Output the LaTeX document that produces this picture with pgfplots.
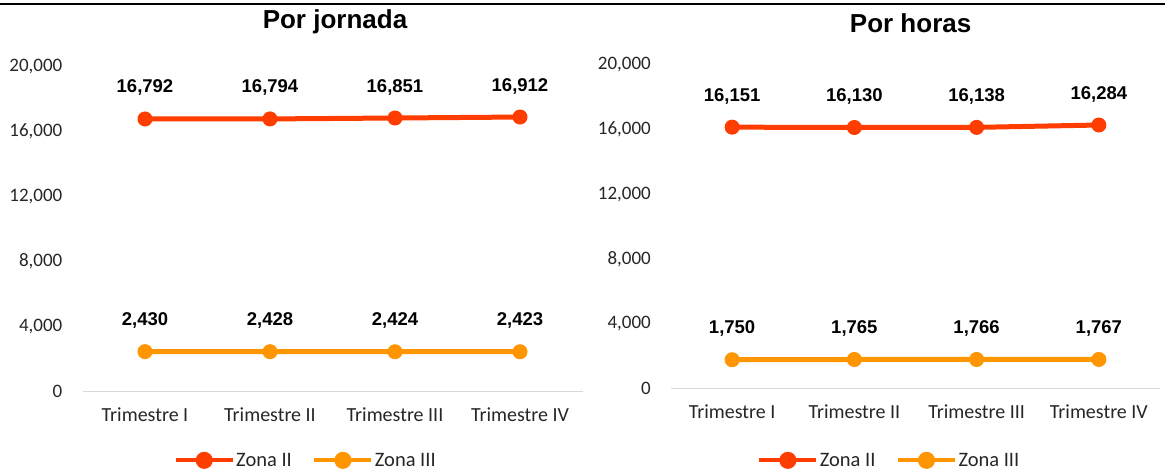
\documentclass[border=0pt]{standalone}
\usepackage{pgfplots}
\pgfplotsset{compat=1.18}
\usepackage{fontspec}
\setmainfont{Carlito}
\newfontfamily\boldsans{Liberation Sans}
\definecolor{zonaii}{HTML}{FF3D00}
\definecolor{zonaiii}{HTML}{FF9500}
\pgfplotsset{
  chartstyle/.style={
    scale only axis,
    axis x line=bottom, axis y line=left,
    axis line style={draw=none},
    separate axis lines,
    ymin=0, ymax=20000,
    ytick={0,4000,8000,12000,16000,20000},
    xtick={0,1,2,3},
    xticklabels={Trimestre I,Trimestre II,Trimestre III,Trimestre IV},
    xmin=-0.5, xmax=3.5,
    scaled y ticks=false,
    /pgf/number format/.cd, fixed, precision=0, 1000 sep={,}, assume math mode=true,
    /pgfplots/.cd,
    tick style={draw=none},
    major tick length=0pt,
    ticklabel style={text=black!85},
    yticklabel style={font=\fontsize{19}{21}\selectfont, anchor=east, inner sep=0pt, xshift=-20pt},
    xticklabel style={font=\fontsize{20}{22}\selectfont, anchor=center, inner sep=0pt, yshift=-24pt},
    nodes near coords,
    nodes near coords style={font=\boldsans\bfseries\fontsize{18.5}{20}\selectfont, anchor=center, yshift=31pt, text=black, /pgf/number format/assume math mode=true},
    legend columns=2,
    legend style={draw=none, fill=none, font=\fontsize{20.5}{22}\selectfont, anchor=center, inner sep=0pt,
      nodes={inner sep=1.5pt, text=black!85},
      /tikz/every even column/.append style={column sep=19pt}},
    legend image code/.code={
      \draw[line width=4pt] (0pt,0pt) -- (57pt,0pt);
      \fill (28.5pt,0pt) circle (6pt);
    },
    clip=false,
  },
  serieii/.style={color=zonaii, line width=5pt, mark=*, mark size=7pt, mark options={solid, line width=1pt}},
  serieiii/.style={color=zonaiii, line width=5pt, mark=*, mark size=7pt, mark options={solid, line width=1pt}},
}
\begin{document}
\begin{tikzpicture}
\path[use as bounding box] (0pt,0pt) rectangle (1165pt,472pt);
\draw[line width=2pt, black] (0pt,468pt) -- (1165pt,468pt);
% Left panel
\begin{axis}[chartstyle, at={(82.5pt,81pt)}, anchor=south west, width=500pt, height=324pt,
  legend style={at={(rel axis cs:0.446,-0.214)}}]
\draw[line width=1pt, black!15] (rel axis cs:0,0) -- (rel axis cs:1,0);
\addplot[serieii] coordinates {(0,16792) (1,16794) (2,16851) (3,16912)};
\addlegendentry{Zona II}
\addplot[serieiii] coordinates {(0,2430) (1,2428) (2,2424) (3,2423)};
\addlegendentry{Zona III}
\node[font=\boldsans\bfseries\fontsize{26}{28}\selectfont, anchor=center] at (rel axis cs:0.505,1) [yshift=45pt] {Por jornada};
\end{axis}
% Right panel
\begin{axis}[chartstyle, at={(671pt,84pt)}, anchor=south west, width=489pt, height=323pt,
  legend style={at={(rel axis cs:0.446,-0.224)}}]
\draw[line width=1pt, black!15] (rel axis cs:0,0) -- (rel axis cs:1,0);
\addplot[serieii] coordinates {(0,16151) (1,16130) (2,16138) (3,16284)};
\addlegendentry{Zona II}
\addplot[serieiii] coordinates {(0,1750) (1,1765) (2,1766) (3,1767)};
\addlegendentry{Zona III}
\node[font=\boldsans\bfseries\fontsize{26}{28}\selectfont, anchor=center] at (rel axis cs:0.49,1) [yshift=42pt] {Por horas};
\end{axis}
\end{tikzpicture}
\end{document}
